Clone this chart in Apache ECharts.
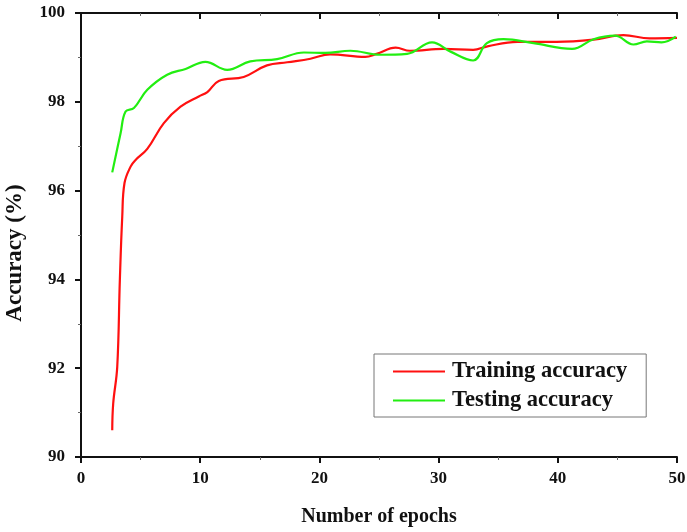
<!DOCTYPE html>
<html><head><meta charset="utf-8">
<script src="https://cdn.jsdelivr.net/npm/echarts@6/dist/echarts.min.js"></script>
<style>html,body{margin:0;padding:0;background:#fff}#c{width:687px;height:532px}</style>
</head><body><div id="c"></div>
<script>
var trainEpochs = [2.62, 2.7, 3.04, 3.26, 3.46, 3.65, 4.16, 4.58, 5.56, 6.95, 8.35, 9.88, 10.6, 11.56, 13.65, 15.6, 17.3, 19.25, 20.9, 23.85, 24.8, 26.4, 27.6, 30.4, 32.9, 34.1, 36.6, 39.9, 43.0, 45.5, 47.7, 50.0];
var trainAcc    = [90.60, 91.20, 92.03, 93.99, 95.41, 96.17, 96.54, 96.69, 96.94, 97.52, 97.89, 98.12, 98.22, 98.47, 98.56, 98.82, 98.89, 98.97, 99.07, 99.01, 99.08, 99.22, 99.15, 99.19, 99.17, 99.25, 99.35, 99.35, 99.40, 99.50, 99.43, 99.44];
var testEpochs  = [2.62, 3.32, 3.74, 4.44, 5.56, 7.23, 8.77, 10.44, 12.26, 14.2, 16.45, 18.7, 20.5, 22.6, 25.1, 27.35, 29.45, 31.0, 32.9, 34.05, 35.45, 37.96, 41.2, 43.0, 44.8, 46.35, 47.47, 48.7, 49.9];
var testAcc     = [96.41, 97.29, 97.78, 97.86, 98.27, 98.61, 98.74, 98.90, 98.72, 98.91, 98.96, 99.11, 99.10, 99.15, 99.06, 99.08, 99.34, 99.13, 98.93, 99.32, 99.41, 99.32, 99.19, 99.41, 99.49, 99.29, 99.36, 99.34, 99.47];
var xTicks = [0, 10, 20, 30, 40, 50];
var yTicks = [90, 92, 94, 96, 98, 100];

function pairs(xs, ys){ return xs.map(function(x,i){ return [x, ys[i]]; }); }
var font = 'Liberation Serif';
var chart = echarts.init(document.getElementById('c'));
var axisLine = {show:true, lineStyle:{color:'#111', width:2}};
chart.setOption({
  animation:false,
  grid:{left:81, top:13, right:10, bottom:75, containLabel:false, outerBoundsMode:'none'},
  legend:{
    orient:'vertical', left:374, top:354,
    padding:[6, 19, 5, 19], itemGap:6,
    borderColor:'#777', borderWidth:1,
    itemWidth:52, itemHeight:2, icon:'rect',
    textStyle:{fontFamily:font, fontWeight:'bold', fontSize:22.5, color:'#111', padding:[0,0,0,2]},
    data:['Training accuracy','Testing accuracy']
  },
  xAxis:[{
    type:'value', min:xTicks[0], max:xTicks[xTicks.length-1], interval:10,
    name:'Number of epochs', nameLocation:'middle', nameGap:50,
    nameTextStyle:{fontFamily:font, fontWeight:'bold', fontSize:20, color:'#111'},
    axisLine:axisLine, axisTick:{show:true, length:6, lineStyle:{color:'#111', width:2}},
    minorTick:{show:true, splitNumber:2, length:3, lineStyle:{color:'#666'}},
    axisLabel:{fontFamily:font, fontWeight:'bold', fontSize:17, color:'#111', margin:13},
    splitLine:{show:false}
  },{
    type:'value', position:'top', min:0, max:50, interval:10,
    axisLine:axisLine, axisTick:{show:true, inside:true, length:6, lineStyle:{color:'#111', width:2}},
    minorTick:{show:true, splitNumber:2, length:3, lineStyle:{color:'#666'}},
    axisLabel:{show:false}, splitLine:{show:false}
  }],
  yAxis:[{
    type:'value', min:yTicks[0], max:yTicks[yTicks.length-1], interval:2,
    name:'Accuracy (%)', nameLocation:'middle', nameGap:54,
    nameTextStyle:{fontFamily:font, fontWeight:'bold', fontSize:23, color:'#111', padding:[0,36,0,0]},
    axisLine:axisLine, axisTick:{show:true, length:6, lineStyle:{color:'#111', width:2}},
    minorTick:{show:true, splitNumber:2, length:3, lineStyle:{color:'#666'}},
    axisLabel:{fontFamily:font, fontWeight:'bold', fontSize:17, color:'#111', margin:16},
    splitLine:{show:false}
  },{
    type:'value', position:'right', min:90, max:100, interval:2,
    axisLine:axisLine, axisTick:{show:true, inside:true, length:6, lineStyle:{color:'#111', width:2}},
    minorTick:{show:true, splitNumber:2, length:3, lineStyle:{color:'#666'}},
    axisLabel:{show:false}, splitLine:{show:false}
  }],
  series:[{
    name:'Training accuracy', type:'line', data:pairs(trainEpochs, trainAcc),
    smooth:0.4, showSymbol:false, symbol:'none', color:'#ff1010',
    lineStyle:{width:2.2, color:'#ff1010'}
  },{
    name:'Testing accuracy', type:'line', data:pairs(testEpochs, testAcc),
    smooth:0.4, showSymbol:false, symbol:'none', color:'#22ee11',
    lineStyle:{width:2.2, color:'#22ee11'}
  }]
});
</script></body></html>
